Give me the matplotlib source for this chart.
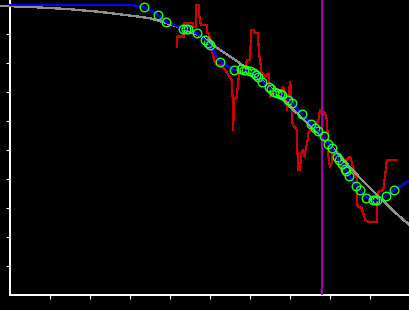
import matplotlib
matplotlib.use("Agg")
import matplotlib.pyplot as plt

# ---- data ----
curve_x = [-0.25, 0.5, 1.43, 2.25, 3.08, 3.5, 3.93, 4.33, 4.75, 5.25, 5.75, 6.25,
           6.75, 7.25, 7.75, 8.25, 8.75, 9.25, 9.75, 10.0]
curve_y = [9.97, 9.93, 9.86, 9.76, 9.62, 9.54, 9.37, 9.18, 8.93, 8.45, 7.99, 7.45,
           6.84, 6.17, 5.52, 4.79, 4.03, 3.34, 2.69, 2.41]

pts_x = [3.35, 3.69, 3.91, 4.33, 4.39, 4.46, 4.67, 4.88, 4.95, 4.99, 5.26, 5.61,
         5.78, 5.85, 5.91, 6.00, 6.09, 6.16, 6.19, 6.31, 6.47, 6.52, 6.61, 6.68,
         6.75, 6.80, 6.96, 7.06, 7.30, 7.53, 7.63, 7.69, 7.84, 7.95, 8.05, 8.18,
         8.23, 8.30, 8.38, 8.41, 8.48, 8.66, 8.75, 8.91, 9.08, 9.13, 9.18, 9.41, 9.59]
pts_y = [9.92, 9.67, 9.42, 9.18, 9.16, 9.16, 9.02, 8.79, 8.68, 8.61, 8.03, 7.75,
         7.79, 7.76, 7.74, 7.73, 7.64, 7.57, 7.53, 7.36, 7.18, 7.10, 7.01, 6.96,
         6.92, 6.90, 6.72, 6.61, 6.24, 5.90, 5.75, 5.67, 5.47, 5.22, 5.07, 4.75,
         4.64, 4.52, 4.36, 4.28, 4.10, 3.75, 3.61, 3.36, 3.27, 3.27, 3.28, 3.40, 3.61]

fit_head_x = [0.0, 3.08]
fit_head_y = [9.99, 9.99]
fit_tail_x = [10.0]
fit_tail_y = [3.95]

raw_x = [4.18, 4.18, 4.35, 4.35, 4.57, 4.57, 4.65, 4.65, 4.73, 4.73, 4.77, 4.92,
         4.92, 4.98, 5.00, 5.03, 5.08, 5.10, 5.17, 5.27, 5.38, 5.48, 5.54, 5.58,
         5.58, 5.60, 5.67, 5.71, 5.73, 5.88, 5.90, 5.94, 6.00, 6.03, 6.08, 6.13,
         6.21, 6.21, 6.23, 6.25, 6.29, 6.38, 6.46, 6.48, 6.50, 6.54, 6.58, 6.67,
         6.75, 6.83, 6.90, 6.93, 6.96, 7.00, 7.02, 7.04, 7.04, 7.08, 7.17, 7.18,
         7.21, 7.25, 7.28, 7.32, 7.36, 7.39, 7.44, 7.46, 7.50, 7.56, 7.61, 7.67,
         7.71, 7.75, 7.79, 7.82, 7.85, 7.89, 7.92, 7.94, 7.96, 8.00, 8.04, 8.04,
         8.08, 8.17, 8.21, 8.25, 8.29, 8.33, 8.42, 8.50, 8.54, 8.58, 8.63, 8.67,
         8.67, 8.71, 8.79, 8.83, 8.88, 8.96, 9.17, 9.17, 9.21, 9.33, 9.38, 9.42, 9.67]
raw_y = [8.56, 8.91, 8.91, 9.37, 9.37, 9.25, 9.25, 10.0, 10.0, 9.66, 9.31, 9.31,
         9.02, 9.02, 8.68, 8.45, 8.28, 8.10, 7.93, 7.93, 7.76, 7.53, 7.41, 6.49,
         5.69, 6.72, 6.84, 7.41, 7.70, 7.70, 7.99, 8.10, 8.10, 9.14, 9.14, 9.02,
         9.02, 8.68, 8.28, 8.10, 7.64, 7.53, 7.64, 7.41, 6.84, 6.90, 7.07, 6.96,
         6.96, 7.18, 6.84, 6.38, 6.72, 7.36, 7.18, 6.72, 6.03, 5.86, 5.69, 5.06,
         4.31, 4.31, 4.89, 5.00, 4.77, 5.00, 5.34, 5.58, 5.69, 5.69, 5.86, 5.92,
         6.03, 6.38, 6.38, 6.21, 6.32, 6.21, 6.03, 5.58, 4.77, 4.42, 4.54, 4.83,
         4.89, 4.77, 4.66, 4.42, 4.54, 4.66, 4.66, 4.77, 4.60, 4.37, 4.14, 4.02,
         3.16, 3.04, 2.99, 2.82, 2.59, 2.53, 2.53, 3.28, 3.56, 3.62, 4.14, 4.66, 4.66]

marker_x = 7.81
x_ticks = [1, 2, 3, 4, 5, 6, 7, 8, 9]
y_ticks = [1, 2, 3, 4, 5, 6, 7, 8, 9]

# ---- figure ----
plt.rcParams['lines.antialiased'] = False
fig = plt.figure(figsize=(4.1, 3.1), dpi=100, facecolor='black')
ax = fig.add_axes([0, 0, 1, 1], facecolor='black')
ax.set_xlim(-0.25, 10.0)
ax.set_ylim(-0.517, 10.17)

ax.plot(raw_x, raw_y, color='#cc0000', lw=0.8, zorder=2)
ax.plot(curve_x, curve_y, color='#909090', lw=0.9, zorder=3)
ax.plot(fit_head_x + pts_x + fit_tail_x, fit_head_y + pts_y + fit_tail_y,
        color='#0000ff', lw=0.9, zorder=4)
ax.vlines(marker_x, 0, 10.17, color='#a000a0', lw=1.3, zorder=5)
ax.plot(pts_x, pts_y, linestyle='none', marker='o', ms=6.2, mfc='none',
        mec='#22ff22', mew=1.0, zorder=6)
ax.plot(pts_x, pts_y, linestyle='none', marker='o', ms=1.2, mfc='#000088',
        mec='#000088', mew=0, zorder=7)

for side in ['top', 'right']:
    ax.spines[side].set_visible(False)
ax.spines['left'].set_position(('data', 0))
ax.spines['bottom'].set_position(('data', 0))
ax.spines['left'].set_bounds(0, 10.17)
ax.spines['bottom'].set_bounds(0, 10.0)
for side in ['left', 'bottom']:
    ax.spines[side].set_color('white')
    ax.spines[side].set_linewidth(1.2)
    ax.spines[side].set_antialiased(False)

ax.set_xticks(x_ticks)
ax.set_yticks(y_ticks)
ax.tick_params(colors='white', direction='out', length=2.6, width=0.8,
               labelbottom=False, labelleft=False)

fig.savefig('out.png', dpi=100, facecolor='black')
